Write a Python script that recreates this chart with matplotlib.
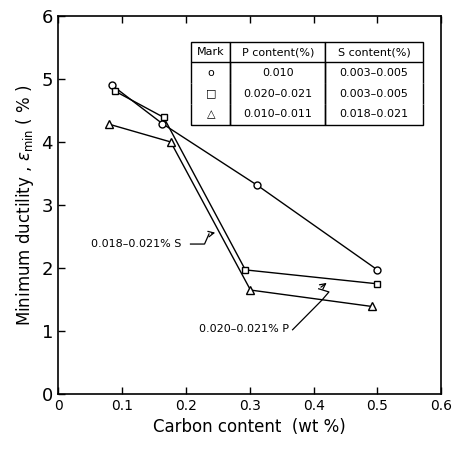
import matplotlib
matplotlib.use("Agg")
import matplotlib.pyplot as plt

# --- donnees ---
carbone_o = [0.084, 0.163, 0.312, 0.500]
ductil_o = [4.90, 4.29, 3.31, 1.97]
carbone_sq = [0.088, 0.165, 0.293, 0.499]
ductil_sq = [4.81, 4.39, 1.97, 1.75]
carbone_tri = [0.080, 0.176, 0.301, 0.491]
ductil_tri = [4.28, 4.00, 1.65, 1.39]

table_header = ["Mark", "P content(%)", "S content(%)"]
table_marks = ["o", "\u25a1", "\u25b3"]
table_p = ["0.010", "0.020\u20130.021", "0.010\u20130.011"]
table_s = ["0.003\u20130.005", "0.003\u20130.005", "0.018\u20130.021"]

plt.rcParams["font.family"] = "DejaVu Sans"

fig = plt.figure(figsize=(4.53, 4.55), dpi=100)
ax = fig.add_axes([0.129, 0.134, 0.845, 0.831])

kw = dict(color="black", linewidth=1.0, markerfacecolor="white",
          markeredgecolor="black", markeredgewidth=1.0)
ax.plot(carbone_o, ductil_o, marker="o", markersize=5, **kw)
ax.plot(carbone_sq, ductil_sq, marker="s", markersize=5, **kw)
ax.plot(carbone_tri, ductil_tri, marker="^", markersize=6, **kw)

ax.set_xlim(0, 0.6)
ax.set_ylim(0, 6)
ax.set_xticks([0, 0.1, 0.2, 0.3, 0.4, 0.5, 0.6])
ax.set_xticklabels(["0", "0.1", "0.2", "0.3", "0.4", "0.5", "0.6"])
ax.set_yticks(range(7))
ax.tick_params(direction="in", length=5, width=1, labelsize=10, top=True)
ax.tick_params(axis="y", labelsize=13, pad=4)
for sp in ax.spines.values():
    sp.set_linewidth(1.2)

ax.set_xlabel("Carbon content  (wt %)", fontsize=12)
ax.set_ylabel(r"Minimum ductility , $\varepsilon_{\rm min}$ ( % )", fontsize=12)

# annotations avec fleches en zigzag
ax.text(0.193, 2.38, "0.018\u20130.021% S", fontsize=8, ha="right", va="center")
zs_x = [0.207, 0.229, 0.236, 0.250]
zs_y = [2.38, 2.38, 2.54, 2.57]
ax.plot(zs_x[:-1], zs_y[:-1], color="black", linewidth=0.9)
ax.annotate("", xy=(zs_x[-1], zs_y[-1]), xytext=(zs_x[-2], zs_y[-2]),
            arrowprops=dict(arrowstyle="->", color="black", lw=0.9))

ax.text(0.362, 1.03, "0.020\u20130.021% P", fontsize=8, ha="right", va="center")
zp_x = [0.367, 0.413, 0.424, 0.408, 0.424]
zp_y = [1.02, 1.49, 1.62, 1.67, 1.79]
ax.plot(zp_x[:-1], zp_y[:-1], color="black", linewidth=0.9)
ax.annotate("", xy=(zp_x[-1], zp_y[-1]), xytext=(zp_x[-2], zp_y[-2]),
            arrowprops=dict(arrowstyle="->", color="black", lw=0.9))

# tableau legende
cells = [[m, p, s] for m, p, s in zip(table_marks, table_p, table_s)]
tab = ax.table(cellText=cells, colLabels=table_header,
               colWidths=[0.168, 0.409, 0.422],
               bbox=[0.3475, 0.712, 0.605, 0.22], cellLoc="center")
tab.auto_set_font_size(False)
nrows = len(cells)
for (r, c), cell in tab.get_celld().items():
    cell.set_fontsize(8)
    cell.set_linewidth(1.0)
    if r == 0:
        cell.visible_edges = "closed"
    elif r == nrows:
        cell.visible_edges = "LRB"
    else:
        cell.visible_edges = "LR"

fig.savefig("out.png", dpi=100)
